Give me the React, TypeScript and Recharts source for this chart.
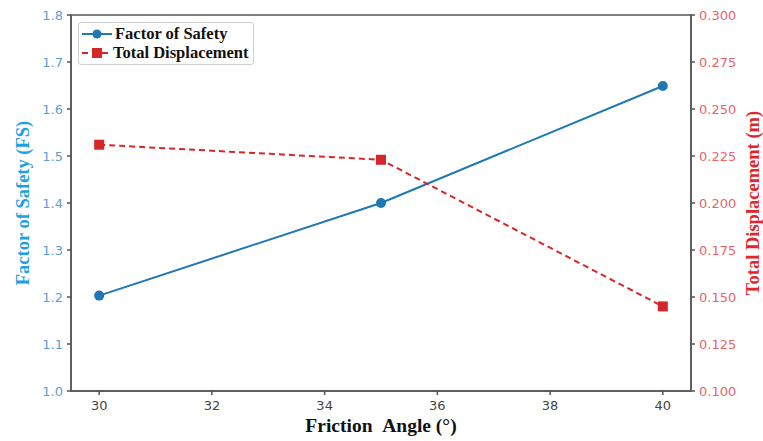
import React from 'react';
import { ComposedChart, Line, XAxis, YAxis, ReferenceArea } from 'recharts';

const frictionAngles = [30, 35, 40];
const factorOfSafety = [1.203, 1.4, 1.649];
const totalDisplacement = [0.231, 0.223, 0.145];
const xTicks = [30, 32, 34, 36, 38, 40];
const leftTicks = [1.0, 1.1, 1.2, 1.3, 1.4, 1.5, 1.6, 1.7, 1.8];
const rightTicks = [0.1, 0.125, 0.15, 0.175, 0.2, 0.225, 0.25, 0.275, 0.3];
const seriesNames = ['Factor of Safety', 'Total Displacement'];

const data = frictionAngles.map((a, i) => ({ angle: a, fs: factorOfSafety[i], disp: totalDisplacement[i] }));

const BLUE = '#1f77b4';
const RED = '#d62728';
const AXIS = '#555555';
const SERIF = '"Liberation Serif", "Times New Roman", serif';
const SANS = '"DejaVu Sans", sans-serif';

const SquareDot = (props: any) => {
  const { cx, cy } = props;
  if (cx == null || cy == null) return null;
  return <rect x={cx - 5} y={cy - 5} width={10} height={10} fill={RED} />;
};

const LegendBox = () => (
  <div
    style={{
      position: 'absolute',
      left: 78,
      top: 22,
      border: '1px solid #d0d0d0',
      borderRadius: 3,
      background: 'rgba(255,255,255,0.85)',
      width: 176,
      height: 43,
      boxSizing: 'border-box',
      fontFamily: SERIF,
      fontWeight: 'bold',
      fontSize: 16.5,
      color: '#111',
      padding: '1px 0 0 3px',
      lineHeight: '19px',
    }}
  >
    <div style={{ display: 'flex', alignItems: 'center', height: 19 }}>
      <svg width={30} height={12} style={{ marginRight: 3 }}>
        <line x1={0} y1={6} x2={30} y2={6} stroke={BLUE} strokeWidth={2} />
        <circle cx={15} cy={6} r={4.5} fill={BLUE} />
      </svg>
      <span>{seriesNames[0]}</span>
    </div>
    <div style={{ display: 'flex', alignItems: 'center', height: 19 }}>
      <svg width={30} height={12} style={{ marginRight: 1 }}>
        <line x1={0} y1={6} x2={30} y2={6} stroke={RED} strokeWidth={2} strokeDasharray="6 4" />
        <rect x={10} y={1} width={10} height={10} fill={RED} />
      </svg>
      <span>{seriesNames[1]}</span>
    </div>
  </div>
);

export default function App() {
  return (
    <div style={{ position: 'absolute', left: 0, top: 0, width: 763, height: 441, background: '#fff' }}>
      <ComposedChart
        width={763}
        height={441}
        data={data}
        margin={{ top: 15, right: 0, bottom: 0, left: 0 }}
      >
        <XAxis
          dataKey="angle"
          type="number"
          domain={[29.5, 40.5]}
          ticks={xTicks}
          allowDataOverflow
          height={50}
          stroke={AXIS}
          strokeWidth={1.5}
          tickSize={4}
          tickMargin={6}
          tick={{ fill: '#444', fontSize: 13, fontFamily: SANS }}
          label={{
            value: 'Friction\u00a0\u00a0Angle (°)',
            position: 'insideBottom',
            offset: 9,
            style: { fill: '#111', fontFamily: SERIF, fontWeight: 'bold', fontSize: 19.5 },
          }}
        />
        <YAxis
          yAxisId="left"
          orientation="left"
          domain={[1.0, 1.8]}
          ticks={leftTicks}
          allowDataOverflow
          width={71}
          stroke={AXIS}
          strokeWidth={1.5}
          tickSize={4}
          tickMargin={4}
          tickFormatter={(v: number) => v.toFixed(1)}
          tick={{ fill: '#5b9fd6', fontSize: 13, fontFamily: SANS }}
          label={{
            value: 'Factor of Safety (FS)',
            angle: -90,
            position: 'insideLeft',
            offset: 22,
            style: { textAnchor: 'middle', fill: '#1ba1e2', fontFamily: SERIF, fontWeight: 'bold', fontSize: 18.5 },
          }}
        />
        <YAxis
          yAxisId="right"
          orientation="right"
          domain={[0.1, 0.3]}
          ticks={rightTicks}
          allowDataOverflow
          width={72}
          stroke={AXIS}
          strokeWidth={1.5}
          tickSize={4}
          tickMargin={4}
          tickFormatter={(v: number) => v.toFixed(3)}
          tick={{ fill: '#e7666a', fontSize: 13, fontFamily: SANS }}
          label={{
            value: 'Total Displacement (m)',
            angle: -90,
            position: 'insideRight',
            offset: 11,
            style: { textAnchor: 'middle', fill: '#e0262b', fontFamily: SERIF, fontWeight: 'bold', fontSize: 18.5 },
          }}
        />
        <ReferenceArea
          yAxisId="left"
          x1={29.5}
          x2={40.5}
          y1={1.0}
          y2={1.8}
          fill="none"
          fillOpacity={0}
          stroke={AXIS}
          strokeWidth={1.5}
          ifOverflow="visible"
        />
        <Line
          yAxisId="left"
          dataKey="fs"
          stroke={BLUE}
          strokeWidth={2}
          dot={{ r: 5, fill: BLUE, stroke: BLUE, strokeWidth: 0 }}
          activeDot={false}
          isAnimationActive={false}
        />
        <Line
          yAxisId="right"
          dataKey="disp"
          stroke={RED}
          strokeWidth={2}
          strokeDasharray="6 4"
          dot={<SquareDot />}
          activeDot={false}
          isAnimationActive={false}
        />
      </ComposedChart>
      <LegendBox />
    </div>
  );
}
